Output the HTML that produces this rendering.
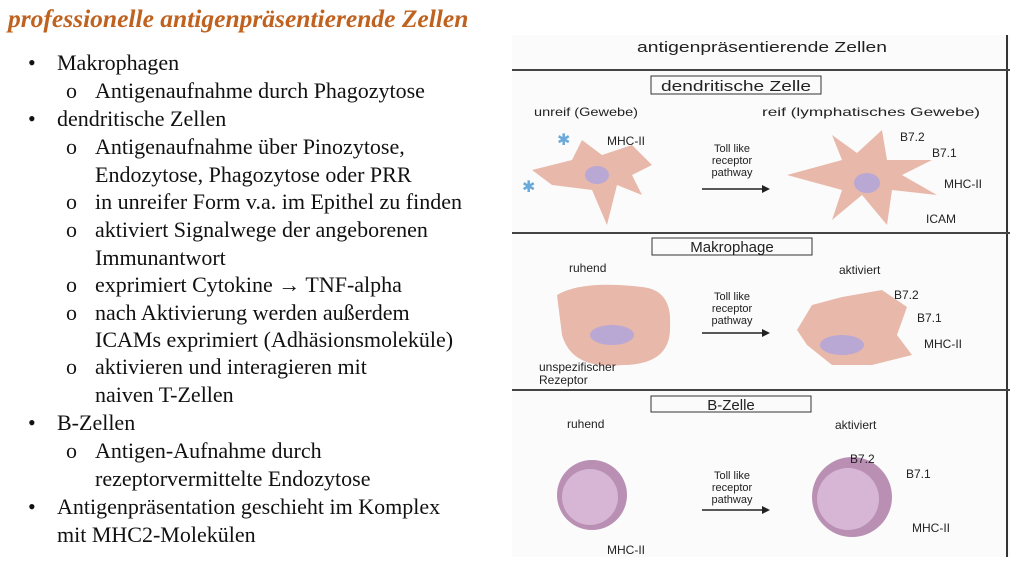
<!DOCTYPE html>
<html><head><meta charset="utf-8">
<style>
body{margin:0;width:1024px;height:573px;background:#fff;position:relative;overflow:hidden;font-family:"Liberation Serif",serif;}
.t{position:absolute;font-size:22px;color:#111;white-space:nowrap;line-height:26px;}
#title{position:absolute;left:8px;top:4px;font:bold italic 25.5px "Liberation Serif",serif;color:#c0621f;white-space:nowrap;}
svg text{font-family:"Liberation Sans",sans-serif;fill:#222;}
</style></head><body>
<div id="title">professionelle antigenpräsentierende Zellen</div>
<div>
<div class="t" style="left:28px;top:50px">•</div><div class="t" style="left:57px;top:50px">Makrophagen</div>
<div class="t" style="left:66px;top:78px">o</div><div class="t" style="left:95px;top:78px">Antigenaufnahme durch Phagozytose</div>
<div class="t" style="left:28px;top:106px">•</div><div class="t" style="left:57px;top:106px">dendritische Zellen</div>
<div class="t" style="left:66px;top:134px">o</div><div class="t" style="left:95px;top:134px">Antigenaufnahme über Pinozytose,</div>
<div class="t" style="left:95px;top:162px">Endozytose, Phagozytose oder PRR</div>
<div class="t" style="left:66px;top:189px">o</div><div class="t" style="left:95px;top:189px">in unreifer Form v.a. im Epithel zu finden</div>
<div class="t" style="left:66px;top:217px">o</div><div class="t" style="left:95px;top:217px">aktiviert Signalwege der angeborenen</div>
<div class="t" style="left:95px;top:245px">Immunantwort</div>
<div class="t" style="left:66px;top:272px">o</div><div class="t" style="left:95px;top:272px">exprimiert Cytokine <b>→</b> TNF-alpha</div>
<div class="t" style="left:66px;top:300px">o</div><div class="t" style="left:95px;top:300px">nach Aktivierung werden außerdem</div>
<div class="t" style="left:95px;top:327px">ICAMs exprimiert (Adhäsionsmoleküle)</div>
<div class="t" style="left:66px;top:354px">o</div><div class="t" style="left:95px;top:354px">aktivieren und interagieren mit</div>
<div class="t" style="left:95px;top:382px">naiven T-Zellen</div>
<div class="t" style="left:28px;top:410px">•</div><div class="t" style="left:57px;top:410px">B-Zellen</div>
<div class="t" style="left:66px;top:438px">o</div><div class="t" style="left:95px;top:438px">Antigen-Aufnahme durch</div>
<div class="t" style="left:95px;top:466px">rezeptorvermittelte Endozytose</div>
<div class="t" style="left:28px;top:494px">•</div><div class="t" style="left:57px;top:494px">Antigenpräsentation geschieht im Komplex</div>
<div class="t" style="left:57px;top:522px">mit MHC2-Molekülen</div>
</div>
<svg style="position:absolute;left:512px;top:35px" width="500" height="525" viewBox="0 0 500 525">
<rect x="0" y="0" width="498" height="522" fill="#fbfbfb"/>
<line x1="495" y1="0" x2="495" y2="522" stroke="#333" stroke-width="2"/>
<text x="250" y="17" font-size="15" text-anchor="middle" textLength="250" lengthAdjust="spacingAndGlyphs">antigenpräsentierende Zellen</text>
<line x1="0" y1="35" x2="498" y2="35" stroke="#444" stroke-width="2"/>
<line x1="0" y1="198" x2="498" y2="198" stroke="#444" stroke-width="2"/>
<line x1="0" y1="355" x2="498" y2="355" stroke="#444" stroke-width="2"/>
<g>
<rect x="139" y="41" width="170" height="18" fill="none" stroke="#333"/>
<text x="224" y="56" font-size="15" text-anchor="middle" textLength="150" lengthAdjust="spacingAndGlyphs">dendritische Zelle</text>
<text x="22" y="81" font-size="12" textLength="104" lengthAdjust="spacingAndGlyphs">unreif (Gewebe)</text>
<text x="250" y="81" font-size="12" textLength="218" lengthAdjust="spacingAndGlyphs">reif (lymphatisches Gewebe)</text>
<path d="M20,135 L60,125 L70,105 L90,120 L120,110 L140,130 L120,140 L130,160 L105,150 L95,190 L80,155 L40,150Z" fill="#e8b9aa"/>
<ellipse cx="85" cy="140" rx="12" ry="9" fill="#b9a8d4"/>
<text x="95" y="110" font-size="12">MHC-II</text>
<text x="45" y="110" font-size="16" style="fill:#6aa9d9">✱</text>
<text x="10" y="157" font-size="16" style="fill:#6aa9d9">✱</text>
<text x="220" y="117" font-size="11" text-anchor="middle">Toll like</text>
<text x="220" y="129" font-size="11" text-anchor="middle">receptor</text>
<text x="220" y="141" font-size="11" text-anchor="middle">pathway</text>
<line x1="190" y1="154" x2="250" y2="154" stroke="#222" stroke-width="1.5"/><path d="M250,150 L258,154 L250,158Z" fill="#222"/>
<path d="M275,140 L330,125 L320,100 L345,118 L370,95 L375,125 L420,125 L390,140 L425,160 L380,155 L375,190 L350,160 L320,185 L330,155Z" fill="#e8b9aa"/>
<ellipse cx="355" cy="148" rx="13" ry="10" fill="#b9a8d4"/>
<text x="388" y="106" font-size="12">B7.2</text><text x="420" y="122" font-size="12">B7.1</text>
<text x="432" y="153" font-size="12">MHC-II</text><text x="414" y="188" font-size="12">ICAM</text>
</g>
<g>
<rect x="140" y="203" width="160" height="17" fill="none" stroke="#333"/>
<text x="220" y="217" font-size="15" text-anchor="middle">Makrophage</text>
<text x="57" y="237" font-size="12">ruhend</text><text x="327" y="239" font-size="12">aktiviert</text>
<path d="M45,260 Q70,245 130,252 Q160,255 158,290 Q160,330 110,330 Q60,335 50,300Z" fill="#e8b9aa"/>
<ellipse cx="100" cy="300" rx="22" ry="10" fill="#b9a8d4"/>
<text x="27" y="336" font-size="12">unspezifischer</text><text x="27" y="349" font-size="12">Rezeptor</text>
<text x="220" y="265" font-size="11" text-anchor="middle">Toll like</text>
<text x="220" y="277" font-size="11" text-anchor="middle">receptor</text>
<text x="220" y="289" font-size="11" text-anchor="middle">pathway</text>
<line x1="190" y1="298" x2="250" y2="298" stroke="#222" stroke-width="1.5"/><path d="M250,294 L258,298 L250,302Z" fill="#222"/>
<path d="M285,295 L300,270 L330,262 L370,255 L395,272 L385,300 L400,320 L360,330 L320,330 L295,310Z" fill="#e8b9aa"/>
<ellipse cx="330" cy="310" rx="22" ry="10" fill="#b9a8d4"/>
<text x="382" y="264" font-size="12">B7.2</text><text x="405" y="287" font-size="12">B7.1</text>
<text x="412" y="313" font-size="12">MHC-II</text>
</g>
<g>
<rect x="139" y="361" width="160" height="16" fill="none" stroke="#333"/>
<text x="219" y="375" font-size="15" text-anchor="middle">B-Zelle</text>
<text x="55" y="393" font-size="12">ruhend</text><text x="323" y="394" font-size="12">aktiviert</text>
<circle cx="80" cy="460" r="35" fill="#b98fb3"/><circle cx="78" cy="462" r="28" fill="#d6b6d4"/>
<text x="95" y="519" font-size="12">MHC-II</text>
<text x="220" y="444" font-size="11" text-anchor="middle">Toll like</text>
<text x="220" y="456" font-size="11" text-anchor="middle">receptor</text>
<text x="220" y="468" font-size="11" text-anchor="middle">pathway</text>
<line x1="190" y1="475" x2="250" y2="475" stroke="#222" stroke-width="1.5"/><path d="M250,471 L258,475 L250,479Z" fill="#222"/>
<circle cx="340" cy="462" r="40" fill="#b98fb3"/><circle cx="336" cy="464" r="31" fill="#d6b6d4"/>
<text x="338" y="428" font-size="12">B7.2</text><text x="394" y="443" font-size="12">B7.1</text>
<text x="400" y="497" font-size="12">MHC-II</text>
</g>
</svg>
</body></html>
